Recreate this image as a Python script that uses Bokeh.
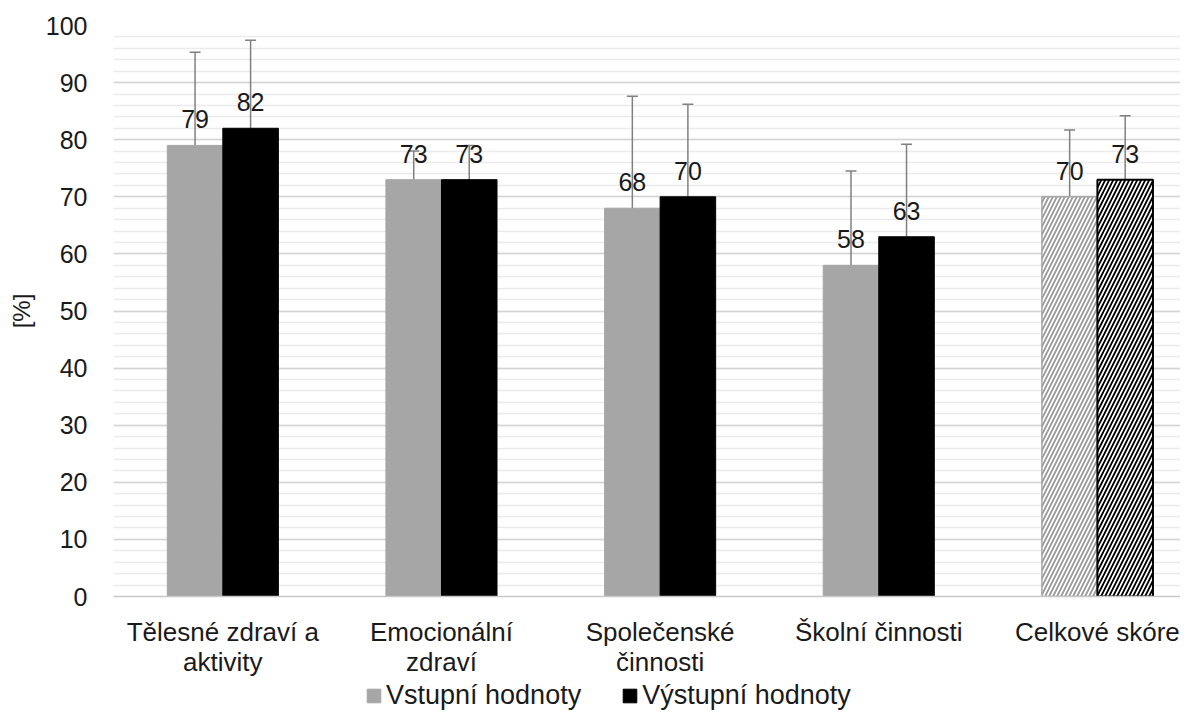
from bokeh.plotting import figure
from bokeh.layouts import column
from bokeh.models import (ColumnDataSource, Range1d, SingleIntervalTicker, FixedTicker,
                          Whisker, TeeHead, Legend, LegendItem)
from bokeh.transform import dodge
from bokeh.core.properties import value
from bokeh.embed import file_html
from bokeh.resources import INLINE

categories = ["Tělesné zdraví a\naktivity", "Emocionální\nzdraví", "Společenské\nčinnosti",
              "Školní činnosti", "Celkové skóre"]
vstupni = [79, 73, 68, 58, 70]
vystupni = [82, 73, 70, 63, 73]
err_vstupni = [16.3, 5.0, 19.6, 16.5, 11.7]
err_vystupni = [15.4, 6.0, 16.2, 16.2, 11.2]
series_names = ["Vstupní hodnoty", "Výstupní hodnoty"]
y_ticks_interval = 10

FONT = "Liberation Sans"
GRAY = "#a6a6a6"
TXT = "#1a1a1a"
BW = 0.254

xc = [i + 0.5 for i in range(len(categories))]
data = dict(
    x=xc,
    vstup=vstupni,
    vystup=vystupni,
    vstup_lo=[v - e for v, e in zip(vstupni, err_vstupni)],
    vstup_hi=[v + e for v, e in zip(vstupni, err_vstupni)],
    vystup_lo=[v - e for v, e in zip(vystupni, err_vystupni)],
    vystup_hi=[v + e for v, e in zip(vystupni, err_vystupni)],
    vstup_lbl=[str(v) for v in vstupni],
    vystup_lbl=[str(v) for v in vystupni],
)
src_all = ColumnDataSource(data)
src_main = ColumnDataSource({k: v[:4] for k, v in data.items()})
src_total = ColumnDataSource({k: v[4:] for k, v in data.items()})

p = figure(x_range=Range1d(0, 4.88), y_range=Range1d(0, 100),
           width=1180, height=680, output_backend="svg", toolbar_location=None,
           min_border_left=113, min_border_right=0, min_border_top=25, min_border_bottom=10)
p.outline_line_color = None
p.background_fill_color = "white"

xl = dodge("x", -BW / 2)
xr = dodge("x", BW / 2)

p.vbar(x=xl, top="vstup", width=BW, source=src_main, fill_color=GRAY, line_color=GRAY)
p.vbar(x=xr, top="vystup", width=BW, source=src_main, fill_color="black", line_color="black")

p.vbar(x=xl, top="vstup", width=BW, source=src_total, fill_color="white", line_color=GRAY,
       line_width=1.5, hatch_pattern="/", hatch_color="#9a9a9a", hatch_scale=8, hatch_weight=1.8)
p.vbar(x=xr, top="vystup", width=BW, source=src_total, fill_color="white", line_color="black",
       line_width=2, hatch_pattern="/", hatch_color="black", hatch_scale=8, hatch_weight=1.8)

for xs, lo, hi in [(xl, "vstup_lo", "vstup_hi"), (xr, "vystup_lo", "vystup_hi")]:
    w = Whisker(base=xs, lower=lo, upper=hi, source=src_all, line_color="#808080", line_width=1.5,
                upper_head=TeeHead(size=11, line_color="#808080", line_width=1.5),
                lower_head=TeeHead(size=11, line_color="#808080", line_width=1.5))
    p.add_layout(w)

for xs, col, lbl in [(xl, "vstup", "vstup_lbl"), (xr, "vystup", "vystup_lbl")]:
    p.text(x=xs, y=col, text=lbl, source=src_all, text_font=value(FONT), text_font_size="25px",
           text_color=TXT, text_align="center", text_baseline="bottom", y_offset=-17)

ticker = SingleIntervalTicker(interval=y_ticks_interval, num_minor_ticks=5)
p.yaxis.ticker = ticker
p.ygrid.ticker = ticker
p.ygrid.grid_line_color = "#d4d4d4"
p.ygrid.grid_line_width = 1.3
p.ygrid.minor_grid_line_color = "#ebebeb"
p.ygrid.minor_grid_line_width = 1.3
p.xgrid.grid_line_color = None

p.yaxis.axis_line_color = None
p.yaxis.major_tick_line_color = None
p.yaxis.minor_tick_line_color = None
p.yaxis.major_label_text_font = FONT
p.yaxis.major_label_text_font_size = "25px"
p.yaxis.major_label_text_color = TXT
p.yaxis.major_label_standoff = 20
p.yaxis.axis_label = "[%]"
p.yaxis.axis_label_text_font = FONT
p.yaxis.axis_label_text_font_size = "24px"
p.yaxis.axis_label_text_font_style = "normal"
p.yaxis.axis_label_text_color = TXT
p.yaxis.axis_label_standoff = 8

p.xaxis.ticker = FixedTicker(ticks=xc)
p.xaxis.major_label_overrides = {x: c for x, c in zip(xc, categories)}
p.xaxis.axis_line_color = "#c8c8c8"
p.xaxis.axis_line_width = 1.3
p.xaxis.major_tick_line_color = None
p.xaxis.minor_tick_line_color = None
p.xaxis.major_label_text_font = FONT
p.xaxis.major_label_text_font_size = "26px"
p.xaxis.major_label_text_color = TXT
p.xaxis.major_label_text_line_height = 1.02
p.xaxis.major_label_standoff = 14

# legend strip below the chart
lg = figure(x_range=Range1d(0, 1), y_range=Range1d(200, 300), width=1180, height=31,
            output_backend="svg", toolbar_location=None, min_border=0)
lg.axis.visible = False
lg.grid.grid_line_color = None
lg.outline_line_color = None
k1 = lg.vbar(x="x", top="vstup", width=BW, source=src_main, fill_color=GRAY, line_color=GRAY)
k2 = lg.vbar(x="x", top="vystup", width=BW, source=src_main, fill_color="black", line_color="black")
legend = Legend(items=[LegendItem(label=series_names[0], renderers=[k1]),
                       LegendItem(label=series_names[1], renderers=[k2])],
                orientation="horizontal", location=(252, 0), padding=0, margin=0,
                spacing=40, label_standoff=4, glyph_width=17, glyph_height=17,
                label_text_font=FONT, label_text_font_size="27px", label_text_color=TXT,
                border_line_color=None, background_fill_alpha=0)
lg.add_layout(legend, "center")

layout = column(p, lg, spacing=0)
open("out.html", "w").write(file_html(layout, INLINE))
